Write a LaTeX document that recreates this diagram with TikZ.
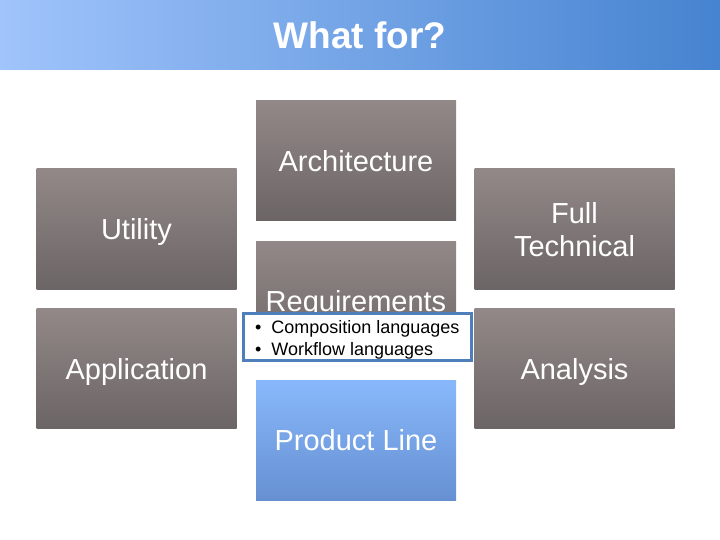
\documentclass[tikz,border=0pt]{standalone}
\usepackage{fontspec}
\setmainfont{Liberation Sans}
\usetikzlibrary{shadings}
\definecolor{gtop}{HTML}{928888}
\definecolor{gbot}{HTML}{6C6565}
\definecolor{btop}{HTML}{88B8FB}
\definecolor{bbot}{HTML}{6690D2}
\definecolor{tleft}{HTML}{A0C4FB}
\definecolor{tright}{HTML}{4683D0}
\definecolor{bborder}{HTML}{4F7FBA}
\tikzset{
  card/.style={rectangle, inner sep=0pt, minimum width=200pt, minimum height=120pt,
    top color=gtop, bottom color=gbot, draw=none, text=white, align=center,
    text depth=0pt, font=\fontsize{29}{33}\selectfont},
  bluecard/.style={card, top color=btop, bottom color=bbot},
}
\begin{document}
\begin{tikzpicture}[x=1pt,y=-1pt]
\useasboundingbox (0,0) rectangle (720,540);
\node[rectangle, inner sep=0pt, minimum width=720pt, minimum height=70pt,
  left color=tleft, right color=tright, text=white, text depth=0pt,
  font=\bfseries\fontsize{37}{40}\selectfont] (title) at (360,35) {What for?};
\node[card] (arch) at (356,161) {Architecture};
\node[card] (util) at (136.5,229) {Utility};
\node[card] (full) at (574.5,229) {Full\\Technical};
\node[card] (req) at (356,301) {Requirements};
\node[card] (app) at (136.5,368.5) {Application};
\node[card] (ana) at (574.5,368.5) {Analysis};
\node[bluecard] (pl) at (356,440) {Product Line};
\node[rectangle, draw=bborder, line width=2.5pt, fill=white, minimum width=228pt,
  minimum height=47pt, inner sep=0pt, anchor=west,
  font=\fontsize{18}{22}\selectfont, text=black] (bul) at (242,337)
  {\raisebox{-3pt}[\height][\depth]{\begin{tabular}{@{}l@{\hspace{10pt}}l@{}}•&Composition languages\\[0pt]•&Workflow languages\end{tabular}}\hspace{10pt}};
\end{tikzpicture}
\end{document}
